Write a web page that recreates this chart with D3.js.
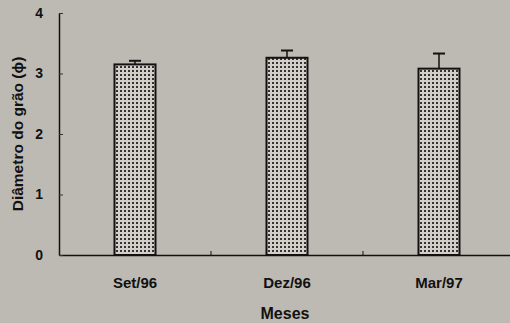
<!DOCTYPE html>
<html>
<head>
<meta charset="utf-8">
<script src="https://cdn.jsdelivr.net/npm/d3@7"></script>
<style>
  html, body { margin: 0; padding: 0; background: #bdbab3; }
  #chart { width: 510px; height: 323px; }
  text { font-family: "Liberation Sans", Arial, sans-serif; font-weight: bold; fill: #111; }
</style>
</head>
<body>
<div id="chart"></div>
<script>
const months = ["Set/96", "Dez/96", "Mar/97"]
const means = [3.15, 3.26, 3.08]
const errors = [0.06, 0.12, 0.25]
const y_ticks = [0, 1, 2, 3, 4]

const margin = { top: 13, right: -5, bottom: 68, left: 59 };
const width = 510 - margin.left - margin.right
const height = 323 - margin.top - margin.bottom

const svg = d3.select("#chart")
    .append("svg")
    .attr("width", 510)
    .attr("height", 323)

const defs = svg.append("defs")
const pat = defs.append("pattern")
    .attr("id", "dots")
    .attr("patternUnits", "userSpaceOnUse")
    .attr("width", 4)
    .attr("height", 4)
pat.append("rect").attr("width", 4).attr("height", 4).attr("fill", "#d2cfc8")
pat.append("rect").attr("x", 1).attr("y", 1).attr("width", 2).attr("height", 2).attr("fill", "#333")

const g = svg.append("g")
    .attr("transform", `translate(${margin.left},${margin.top})`);

const x = d3.scaleBand()
    .domain(months)
    .range([0, width])
    .paddingInner(0)
    .paddingOuter(0);

const y = d3.scaleLinear()
    .domain([0, 4])
    .range([height, 0]);

const bar_w = 41

// error bars
months.forEach((m, i) => {
    const cx = x(m) + x.bandwidth() / 2
    g.append("line")
        .attr("x1", cx).attr("x2", cx)
        .attr("y1", y(means[i])).attr("y2", y(means[i] + errors[i]))
        .attr("stroke", "#111").attr("stroke-width", 1.5)
    g.append("line")
        .attr("x1", cx - 6).attr("x2", cx + 6)
        .attr("y1", y(means[i] + errors[i])).attr("y2", y(means[i] + errors[i]))
        .attr("stroke", "#111").attr("stroke-width", 2)
});

g.selectAll(".bar")
    .data(means)
    .enter().append("rect")
    .attr("class", "bar")
    .attr("x", (d, i) => x(months[i]) + x.bandwidth() / 2 - bar_w / 2)
    .attr("y", d => y(d))
    .attr("width", bar_w)
    .attr("height", d => height - y(d))
    .attr("fill", "url(#dots)")
    .attr("stroke", "#111")
    .attr("stroke-width", 2);

// x axis
const xAxis = g.append("g")
    .attr("transform", `translate(0,${height})`)
    .call(d3.axisBottom(x).tickSize(0).tickPadding(22));
xAxis.select(".domain").attr("stroke", "#111").attr("stroke-width", 1.5);
xAxis.selectAll("text").attr("font-size", "15px");
months.slice(1).forEach(m => {
    xAxis.append("line")
        .attr("x1", x(m)).attr("x2", x(m))
        .attr("y1", 0).attr("y2", -4)
        .attr("stroke", "#111").attr("stroke-width", 1)
});

// y axis
const yAxis = g.append("g")
    .call(d3.axisLeft(y).tickValues(y_ticks).tickSizeInner(-4).tickSizeOuter(0).tickPadding(16).tickFormat(d3.format("d")));
yAxis.select(".domain").attr("stroke", "#111").attr("stroke-width", 1.5);
yAxis.selectAll(".tick line").attr("stroke", "#333");
yAxis.selectAll("text").attr("font-size", "14px");

g.append("text")
    .attr("x", 226)
    .attr("y", height + 64)
    .attr("text-anchor", "middle")
    .attr("font-size", "16px")
    .text("Meses");

g.append("text")
    .attr("transform", "rotate(-90)")
    .attr("x", -height / 2)
    .attr("y", -36)
    .attr("text-anchor", "middle")
    .attr("font-size", "15.5px")
    .text("Diâmetro do grão (ϕ)");
</script>
</body>
</html>
